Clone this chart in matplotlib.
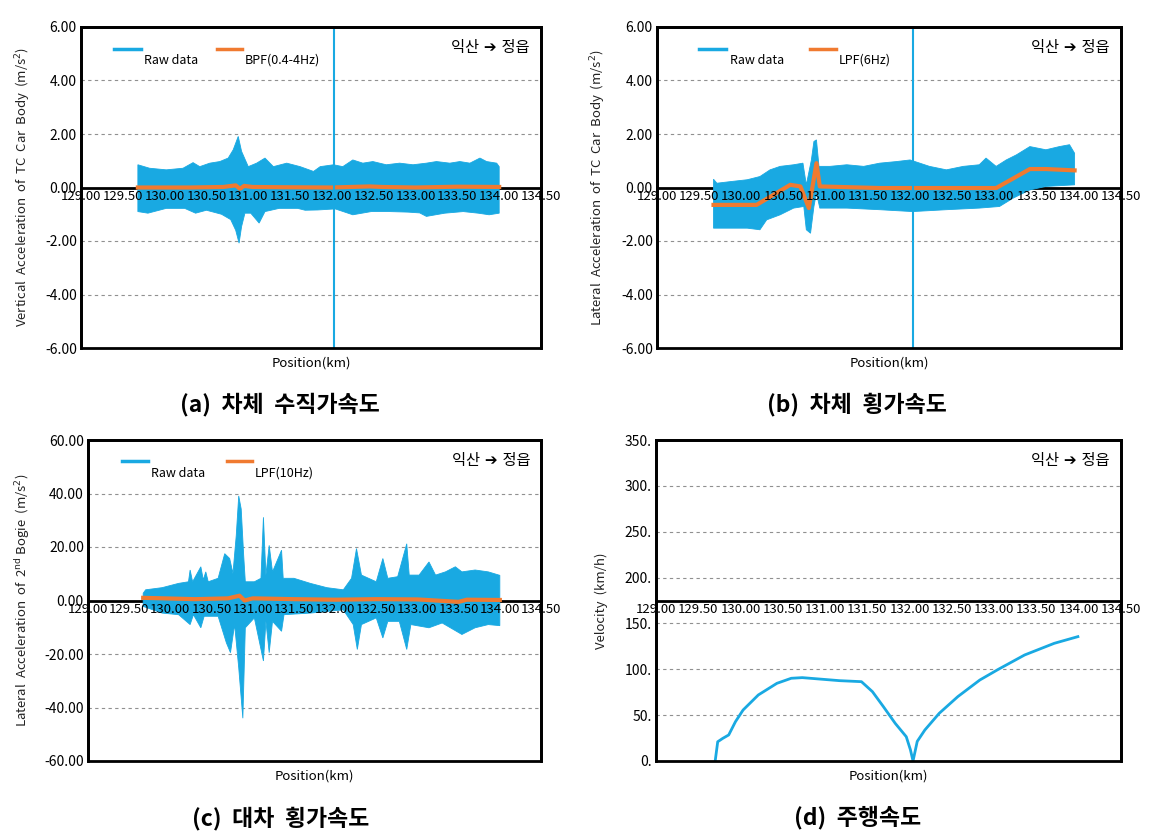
import matplotlib
matplotlib.use("Agg")
import matplotlib.pyplot as plt
from matplotlib.patches import Rectangle
import numpy as np

plt.rcParams['font.family'] = ['Noto Sans CJK KR', 'DejaVu Sans']
plt.rcParams['mathtext.fontset'] = 'dejavusans'

CYAN = '#19a9e2'
ORANGE = '#f07a30'

xticks = [129.00, 129.50, 130.00, 130.50, 131.00, 131.50, 132.00, 132.50, 133.00, 133.50, 134.00, 134.50]
cursor_km = 132.03
direction = '익산 ➔ 정읍'

# (a) vertical car body acceleration: raw-data envelope + BPF
a_up_x = [129.68, 129.82, 130.02, 130.22, 130.34, 130.42, 130.54, 130.66, 130.76, 130.82, 130.88, 130.92,
          131.00, 131.10, 131.20, 131.30, 131.46, 131.62, 131.78, 131.86, 132.02, 132.13, 132.25, 132.37,
          132.49, 132.65, 132.81, 132.97, 133.13, 133.25, 133.41, 133.53, 133.65, 133.77, 133.85, 133.97, 134.00]
a_up = [0.85, 0.72, 0.66, 0.72, 0.93, 0.78, 0.91, 0.97, 1.10, 1.41, 1.91, 1.35,
        0.78, 0.91, 1.10, 0.78, 0.91, 0.78, 0.60, 0.78, 0.85, 0.78, 1.03, 0.91,
        0.97, 0.85, 0.91, 0.85, 0.91, 0.97, 0.91, 0.97, 0.91, 1.10, 0.97, 0.91, 0.78]
a_lo_x = [129.68, 129.80, 130.02, 130.24, 130.37, 130.50, 130.68, 130.79, 130.85, 130.89, 130.92, 130.96,
          131.03, 131.13, 131.20, 131.37, 131.59, 131.68, 131.83, 132.04, 132.25, 132.47, 132.69, 132.91,
          133.05, 133.13, 133.35, 133.57, 133.75, 133.88, 134.00]
a_lo = [-0.90, -0.96, -0.78, -0.78, -0.96, -0.85, -1.00, -1.20, -1.60, -2.08, -1.46, -0.96,
        -0.96, -1.33, -0.90, -0.78, -0.78, -0.85, -0.84, -0.80, -1.02, -0.90, -0.90, -0.92,
        -0.95, -1.08, -0.96, -0.90, -0.96, -1.02, -0.96]
a_filt_x = [129.68, 130.30, 130.70, 130.85, 130.90, 130.95, 131.05, 131.40, 132.00, 132.45, 132.60, 133.00, 133.50, 134.00]
a_filt = [0.00, 0.00, 0.02, 0.08, -0.05, 0.06, 0.02, 0.01, 0.00, 0.04, 0.02, 0.00, 0.03, 0.02]

# (b) lateral car body acceleration: raw-data envelope + LPF
b_up_x = [129.67, 129.71, 129.87, 130.07, 130.22, 130.34, 130.46, 130.62, 130.73, 130.77, 130.83, 130.86,
          130.89, 130.92, 131.05, 131.25, 131.45, 131.64, 131.84, 132.00, 132.23, 132.43, 132.63, 132.82,
          132.90, 133.02, 133.14, 133.26, 133.42, 133.61, 133.77, 133.89, 133.95]
b_up = [0.31, 0.16, 0.22, 0.29, 0.41, 0.66, 0.79, 0.85, 0.91, 0.10, 1.03, 1.72,
        1.78, 0.79, 0.79, 0.85, 0.79, 0.91, 0.97, 1.03, 0.79, 0.66, 0.79, 0.85,
        1.10, 0.79, 1.03, 1.22, 1.53, 1.41, 1.53, 1.60, 1.28]
b_lo_x = [129.67, 130.07, 130.22, 130.30, 130.46, 130.62, 130.74, 130.77, 130.82, 130.86, 130.89, 130.93,
          131.25, 131.64, 132.03, 132.43, 132.82, 133.06, 133.22, 133.42, 133.61, 133.95]
b_lo = [-1.52, -1.52, -1.58, -1.21, -1.02, -0.77, -0.71, -1.58, -1.71, -0.71, -0.21, -0.77,
        -0.77, -0.83, -0.90, -0.83, -0.77, -0.71, -0.40, -0.09, 0.04, 0.10]
b_filt_x = [129.67, 130.18, 130.58, 130.70, 130.80, 130.89, 130.93, 131.64, 133.02, 133.42, 133.61, 133.95]
b_filt = [-0.65, -0.65, 0.10, 0.04, -0.77, 0.91, 0.04, -0.02, -0.02, 0.69, 0.69, 0.64]

# (c) lateral bogie acceleration: raw-data envelope + LPF
c_up_x = [129.67, 129.70, 129.90, 130.10, 130.22, 130.24, 130.27, 130.37, 130.40, 130.43, 130.46, 130.58,
          130.66, 130.72, 130.76, 130.80, 130.83, 130.86, 130.89, 130.91, 131.02, 131.10, 131.13, 131.16,
          131.20, 131.24, 131.35, 131.37, 131.50, 131.70, 131.90, 132.10, 132.20, 132.26, 132.32, 132.50,
          132.58, 132.64, 132.76, 132.87, 132.90, 133.02, 133.14, 133.22, 133.34, 133.46, 133.54, 133.70,
          133.86, 134.00]
c_up = [2.7, 4.0, 4.8, 6.4, 7.0, 11.4, 7.0, 12.6, 7.7, 10.7, 7.0, 8.3,
        17.5, 15.7, 10.1, 24.3, 39.1, 34.2, 16.9, 7.0, 7.0, 8.3, 31.1, 9.5,
        20.6, 10.7, 18.8, 8.3, 8.3, 6.4, 4.8, 4.0, 8.3, 19.4, 9.5, 7.0,
        15.7, 8.3, 8.9, 21.2, 9.5, 9.5, 14.4, 9.5, 10.7, 12.6, 10.7, 11.4,
        10.7, 9.4]
c_lo_x = [129.67, 129.90, 130.10, 130.24, 130.28, 130.37, 130.41, 130.58, 130.68, 130.73, 130.78, 130.83,
          130.88, 130.91, 131.02, 131.13, 131.16, 131.20, 131.24, 131.35, 131.38, 131.70, 132.10, 132.22,
          132.27, 132.32, 132.50, 132.58, 132.64, 132.78, 132.87, 132.92, 133.14, 133.30, 133.54, 133.70,
          133.86, 134.00]
c_lo = [-2.2, -4.7, -5.3, -9.0, -5.3, -10.2, -5.9, -5.9, -15.8, -19.5, -9.0, -25.1,
        -44.0, -10.2, -6.5, -22.6, -7.8, -19.5, -7.8, -11.5, -5.3, -4.7, -3.5, -9.0,
        -18.3, -9.0, -6.5, -14.0, -7.8, -7.8, -18.3, -9.0, -10.2, -8.4, -12.7, -10.2,
        -9.0, -9.4]
c_filt_x = [129.67, 130.30, 130.70, 130.84, 130.90, 131.00, 131.50, 132.00, 132.50, 133.00, 133.50, 133.60, 134.00]
c_filt = [1.0, 0.5, 0.8, 1.8, 0.0, 0.8, 0.5, 0.3, 0.5, 0.4, -0.5, 0.3, 0.2]

# (d) running speed
d_x = [129.70, 129.73, 129.79, 129.86, 129.94, 130.03, 130.21, 130.43, 130.60, 130.73, 131.17, 131.43,
       131.56, 131.69, 131.83, 131.96, 132.01, 132.04, 132.09, 132.18, 132.35, 132.57, 132.83, 133.05,
       133.36, 133.71, 133.99]
d_v = [0.0, 21.0, 24.7, 28.4, 42.9, 55.6, 72.0, 84.7, 90.2, 90.9, 87.6, 86.5,
       75.6, 59.2, 41.0, 26.5, 12.0, 0.0, 21.4, 33.8, 52.0, 70.2, 88.3, 100.0,
       115.6, 128.3, 135.6]


def base_axes(ax, ylim, yticks, ylabels, xaxis_at, ylabel, label_x):
    ax.set_xlim(129.0, 134.5)
    ax.set_ylim(*ylim)
    ax.set_xticks(xticks)
    ax.set_xticklabels([f'{t:.2f}' for t in xticks])
    ax.set_yticks(yticks)
    ax.set_yticklabels(ylabels)
    ax.tick_params(length=0, labelsize=10, pad=3)
    ax.tick_params(axis='x', pad=2, labelsize=9.5)
    ax.xaxis.set_zorder(3)
    for s in ['top', 'right', 'left']:
        ax.spines[s].set_linewidth(2)
    ax.spines['bottom'].set_position(('data', xaxis_at))
    ax.spines['bottom'].set_linewidth(2)
    ax.spines['bottom'].set_zorder(1.5)
    ax.add_patch(Rectangle((0, 0), 1, 1, transform=ax.transAxes, fill=False,
                           lw=2, ec='black', zorder=3, clip_on=False))
    for t in yticks[1:-1]:
        if t != xaxis_at:
            ax.axhline(t, color='#909090', lw=0.8, ls=(0, (3, 3)), zorder=0.5)
    ax.set_ylabel(ylabel, fontsize=9.5, color='#222222')
    ax.yaxis.set_label_coords(label_x, 0.5)
    ax.text(0.5, -0.048, 'Position(km)', transform=ax.transAxes, ha='center', va='center', fontsize=9.5)
    ax.text(0.976, 0.935, direction, transform=ax.transAxes, ha='right', va='center', fontsize=11,
            family=['DejaVu Sans', 'Noto Sans CJK KR'])


def raw_band(ax, ux, uy, lx, ly):
    ax.fill(np.concatenate([ux, lx[::-1]]), np.concatenate([uy, ly[::-1]]),
            color=CYAN, lw=0.6, zorder=2)


def legend(ax, x_raw, x_filt, name, y_line=0.931, y_text=0.897):
    ax.plot([x_raw, x_raw + 0.058], [y_line, y_line], color=CYAN, lw=2.5, transform=ax.transAxes)
    ax.text(x_raw + 0.066, y_text, 'Raw data', transform=ax.transAxes, va='center', fontsize=9)
    ax.plot([x_filt, x_filt + 0.055], [y_line, y_line], color=ORANGE, lw=2.5, transform=ax.transAxes)
    ax.text(x_filt + 0.062, y_text, name, transform=ax.transAxes, va='center', fontsize=9)


fig = plt.figure(figsize=(11.55, 8.36), dpi=100)
W, H = 1155, 836


def add_ax(l, r, t, b):
    return fig.add_axes([l / W, 1 - b / H, (r - l) / W, (b - t) / H])


acc_ticks = [-6, -4, -2, 0, 2, 4, 6]
acc_labels = [f'{v:.2f}' for v in acc_ticks]

# (a)
ax = add_ax(81, 541, 27, 348)
base_axes(ax, (-6, 6), acc_ticks, acc_labels, 0, 'Vertical  Acceleration  of  TC  Car  Body  (m/s$^2$)', -0.104)
raw_band(ax, a_up_x, a_up, a_lo_x, a_lo)
ax.plot(a_filt_x, a_filt, color=ORANGE, lw=3, zorder=2.2)
ax.axvline(cursor_km, color=CYAN, lw=1.5, zorder=2.3)
legend(ax, 0.072, 0.295, 'BPF(0.4-4Hz)')

# (b)
ax = add_ax(657, 1121, 27, 348)
base_axes(ax, (-6, 6), acc_ticks, acc_labels, 0, 'Lateral  Acceleration  of  TC  Car  Body  (m/s$^2$)', -0.105)
raw_band(ax, b_up_x, b_up, b_lo_x, b_lo)
ax.plot(b_filt_x, b_filt, color=ORANGE, lw=3, zorder=2.2)
ax.axvline(cursor_km, color=CYAN, lw=1.5, zorder=2.3)
legend(ax, 0.091, 0.33, 'LPF(6Hz)')

# (c)
bog_ticks = [-60, -40, -20, 0, 20, 40, 60]
ax = add_ax(88, 541, 440, 761)
base_axes(ax, (-60, 60), bog_ticks, [f'{v:.2f}' for v in bog_ticks], 0,
          'Lateral  Acceleration  of  2$^{\\mathrm{nd}}$ Bogie  (m/s$^2$)', -0.123)
raw_band(ax, c_up_x, c_up, c_lo_x, c_lo)
ax.plot(c_filt_x, c_filt, color=ORANGE, lw=3, zorder=2.2)
legend(ax, 0.074, 0.307, 'LPF(10Hz)', y_line=0.935, y_text=0.897)

# (d)
v_ticks = [0, 50, 100, 150, 200, 250, 300, 350]
ax = add_ax(656, 1121, 440, 761)
base_axes(ax, (0, 350), v_ticks, [f'{v}.' for v in v_ticks], 175, 'Velocity  (km/h)', -0.103)
ax.plot(d_x, d_v, color=CYAN, lw=2, zorder=2.2)

# captions
for x, y, s in [(280, 405, '(a)  차체  수직가속도'), (857, 405, '(b)  차체  횡가속도'),
                (281, 818, '(c)  대차  횡가속도'), (858, 818, '(d)  주행속도')]:
    fig.text(x / W, 1 - y / H, s, ha='center', va='center', fontsize=16.5, fontweight='bold')

fig.savefig('out.png', dpi=100)
